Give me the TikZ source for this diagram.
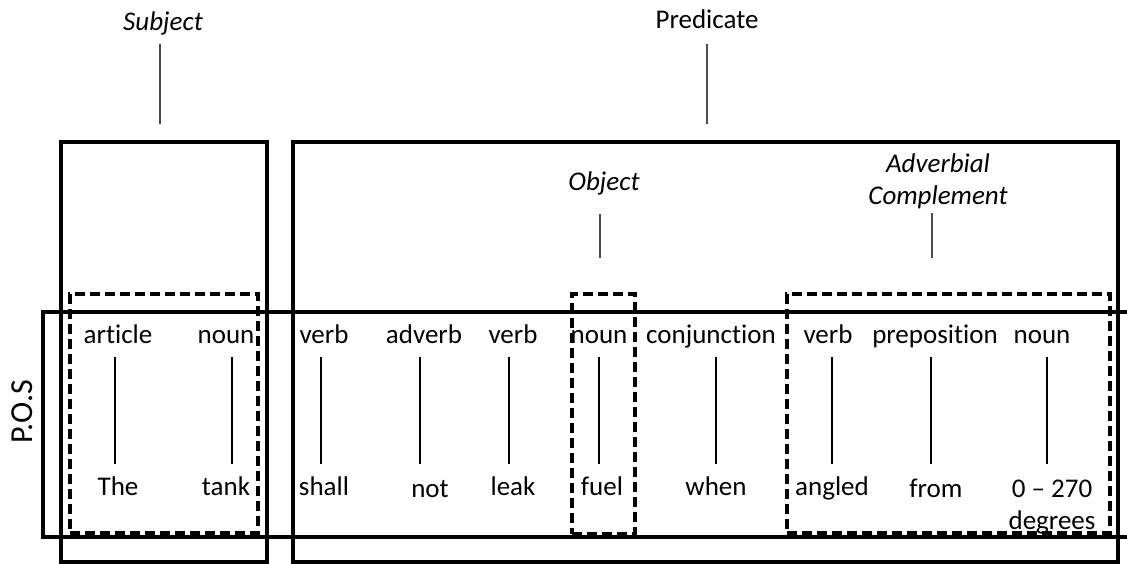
\documentclass[tikz,border=0pt]{standalone}
\usepackage{fontspec}
\setmainfont{Carlito}[Ligatures={TeX,NoCommon}]
\begin{document}
\begin{tikzpicture}[x=1pt,y=-1pt,
  every node/.style={inner sep=0pt, outer sep=0pt, font=\fontsize{27}{32}\selectfont},
  lbl/.style={font=\fontsize{27}{32}\selectfont\itshape, anchor=base, text depth=6pt},
  plainlbl/.style={anchor=base, text depth=6pt},
  word/.style={anchor=base, text height=19pt, text depth=6pt},
  solidbox/.style={draw, line width=3.4pt},
  dashbox/.style={draw, line width=3.2pt, dash pattern=on 10pt off 5pt},
  toplink/.style={draw, line width=1.3pt, black!70},
  link/.style={draw, line width=1.1pt, shorten <=8pt, shorten >=12pt}]
\useasboundingbox (0,0) rectangle (1127,563);

% outer boxes
\node[solidbox, minimum width=206pt, minimum height=420pt] (sbox) at (164,352) {};
\node[solidbox, minimum width=825pt, minimum height=420pt] (pbox) at (705.5,352) {};
\draw[solidbox] (1140,312) -- (43,312) -- (43,537) -- (1140,537);
\node[font=\fontsize{32}{38}\selectfont, rotate=90] (pos) at (22,412) {P.O.S};

% dashed boxes
\node[dashbox, minimum width=188pt, minimum height=239pt] (sdbox) at (164,413.5) {};
\node[dashbox, minimum width=63pt, minimum height=240pt] (obox) at (603.5,414) {};
\node[dashbox, minimum width=323pt, minimum height=239pt] (abox) at (948.5,413.5) {};

% top labels
\node[lbl] (subj) at (163,30) {Subject};
\node[plainlbl] (pred) at (707,28) {Predicate};
\node[lbl] (obj) at (604,190) {Object};
\node[font=\fontsize{27}{32}\selectfont\itshape, align=center] (adv) at (938,181.5) {Adverbial\\Complement};

\draw[toplink, shorten <=8pt, shorten >=18pt] ([xshift=-3pt]subj.south) -- ([xshift=-3pt]subj.south |- sbox.north);
\draw[toplink, shorten <=10pt, shorten >=18pt] (pred.south) -- (pred.south |- pbox.north);
\draw[toplink, shorten <=18pt, shorten >=36pt] ([xshift=-4pt]obj.south) -- ([xshift=-4pt]obj.south |- obox.north);
\draw[toplink, shorten <=4pt, shorten >=36pt] ([xshift=-6pt]adv.south) -- ([xshift=-6pt]adv.south |- abox.north);

% part of speech row
\node[word] (p1) at (118,343) {article};
\node[word] (p2) at (226,343) {noun};
\node[word] (p3) at (324,343) {verb};
\node[word] (p4) at (424,343) {adverb};
\node[word] (p5) at (513,343) {verb};
\node[word] (p6) at (599,343) {noun};
\node[word] (p7) at (711,343) {conjunction};
\node[word] (p8) at (828,343) {verb};
\node[word] (p9) at (935,343) {preposition};
\node[word] (p10) at (1042,343) {noun};

% word row
\node[word] (w1) at (118,495) {The};
\node[word] (w2) at (226,495) {tank};
\node[word] (w3) at (324,495) {shall};
\node[word] (w4) at (430,497) {not};
\node[word] (w5) at (513,495) {leak};
\node[word] (w6) at (602,495) {fuel};
\node[word] (w7) at (716,495) {when};
\node[word] (w8) at (832,495) {angled};
\node[word] (w9) at (936,497) {from};
\node[align=center, anchor=north] (w10) at (1052,480) {0 – 270\\degrees};

% connectors
\draw[link] ([xshift=-3pt]p1.south) -- ([xshift=-3pt]p1.south |- w1.north);
\draw[link] ([xshift=6pt]p2.south) -- ([xshift=6pt]p2.south |- w2.north);
\draw[link] ([xshift=-3pt]p3.south) -- ([xshift=-3pt]p3.south |- w3.north);
\draw[link] ([xshift=-4pt]p4.south) -- ([xshift=-4pt]p4.south |- w3.north);
\draw[link] ([xshift=-4pt]p5.south) -- ([xshift=-4pt]p5.south |- w5.north);
\draw[link] (p6.south) -- (p6.south |- w6.north);
\draw[link] ([xshift=5pt]p7.south) -- ([xshift=5pt]p7.south |- w7.north);
\draw[link] ([xshift=4pt]p8.south) -- ([xshift=4pt]p8.south |- w8.north);
\draw[link] ([xshift=-4pt]p9.south) -- ([xshift=-4pt]p9.south |- w1.north);
\draw[link, shorten >=16pt] ([xshift=5pt]p10.south) -- ([xshift=5pt]p10.south |- w10.north);
\end{tikzpicture}
\end{document}
